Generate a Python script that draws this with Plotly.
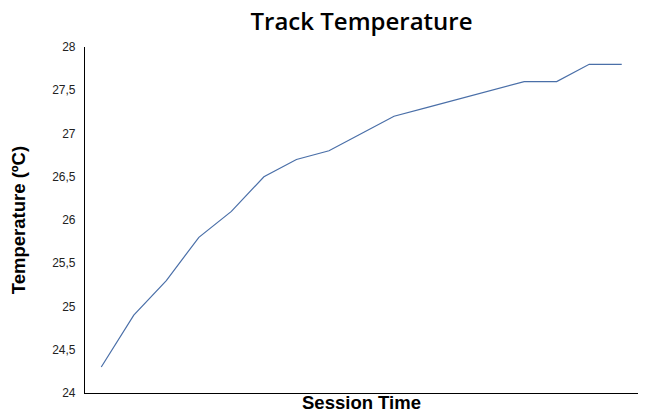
import plotly.graph_objects as go

session = list(range(1, 18))
temperature = [24.3, 24.9, 25.3, 25.8, 26.1, 26.5, 26.7, 26.8, 27.0, 27.2,
               27.3, 27.4, 27.5, 27.6, 27.6, 27.8, 27.8]

# page body has an 8px margin; figure coordinates are offset by it
OFF = 8
W, H = 647, 419

fig = go.Figure()
fig.add_trace(go.Scatter(
    x=session, y=temperature, mode="lines",
    line=dict(color="#4a6fa8", width=1.2),
    showlegend=False, hoverinfo="skip",
))

fig.update_layout(
    width=W, height=H,
    margin=dict(l=85 - OFF, r=W - (638 - OFF), t=47 - OFF, b=H - (393 - OFF)),
    paper_bgcolor="white", plot_bgcolor="white",
    separators=",.",
    title=dict(text="Track Temperature", x=((85 + 638) / 2 - OFF) / W, xanchor="center",
               y=1 - (22 - OFF) / H, yanchor="middle",
               font=dict(family="Open Sans, sans-serif", size=24, weight=600, color="black")),
    xaxis=dict(
        range=[0.5, 17.5], showticklabels=False, ticks="",
        showgrid=False, zeroline=False, automargin=False,
        showline=True, linecolor="black", linewidth=1.2,
        title=dict(text="<b>Session Time</b>", standoff=2,
                   font=dict(family="Arial", size=18.5, color="black")),
    ),
    yaxis=dict(
        range=[24, 28], dtick=0.5, tick0=24,
        showgrid=False, zeroline=False, automargin=False,
        showline=True, linecolor="black", linewidth=1.2,
        ticks="", ticklabelstandoff=6,
        tickfont=dict(family="Arial", size=12, color="#222"),
        title=dict(text="<b>Temperature (ºC)</b>", standoff=26,
                   font=dict(family="Arial", size=18.5, color="black")),
    ),
)

fig.write_html("out.html")
